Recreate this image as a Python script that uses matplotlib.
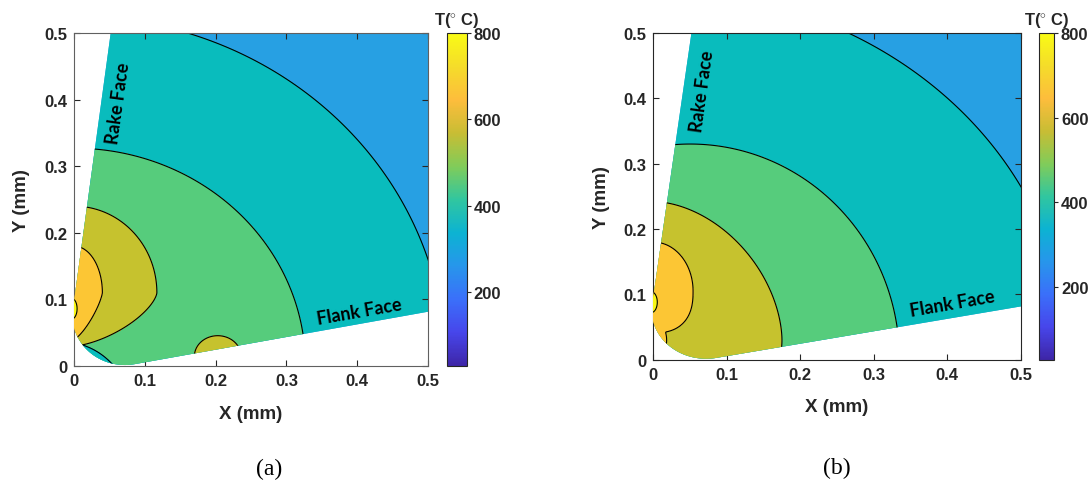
import numpy as np
import matplotlib
matplotlib.use("Agg")
from matplotlib import pyplot as plt
from matplotlib.colors import LinearSegmentedColormap, Normalize
from matplotlib.cm import ScalarMappable
from matplotlib.path import Path
from matplotlib.patches import PathPatch

# colour of each temperature band (lower bound of the band, deg C)
band_colors = {300: "#27A0E3", 400: "#09BCBD", 500: "#56CC7C",
               600: "#C6C22E", 700: "#FCC634", 800: "#F8F815"}

# isotherms of panel (a): band inside the shape, shape centre, radii, exponents
a_band = [400, 500, 400, 600, 600, 700, 800]
a_group = [0, 1, 2, 3, 4, 5, 6]
a_cx = [0.0, 0.0, -0.02, 0.203, 0.0, 0.0, -0.004]
a_cy = [0.0, 0.0, -0.06, 0.0145, 0.11, 0.11, 0.086]
a_rx = [0.525, 0.327, 0.097, 0.033, 0.117, 0.040, 0.0083]
a_ry_up = [0.525, 0.327, 0.097, 0.031, 0.130, 0.070, 0.016]
a_ry_dn = [0.525, 0.327, 0.097, 0.031, 0.080, 0.070, 0.016]
a_p_up = [2, 2, 2, 2, 2, 2, 2]
a_p_dn = [2, 2, 2, 2, 1.5, 1.3, 2]

# isotherms of panel (b)
b_band = [400, 500, 600, 700, 700, 800]
b_group = [0, 1, 2, 3, 3, 4]
b_cx = [0.0, 0.05, 0.0, 0.0, 0.0, -0.003]
b_cy = [0.0, 0.0, 0.03, 0.105, 0.03, 0.088]
b_rx = [0.566, 0.285, 0.175, 0.054, 0.018, 0.0083]
b_ry_up = [0.566, 0.330, 0.212, 0.075, 0.030, 0.016]
b_ry_dn = [0.566, 0.330, 0.212, 0.064, 0.030, 0.016]
b_p_up = [2, 2, 1.8, 2, 2, 2]
b_p_dn = [2, 2, 1.8, 2.5, 2, 2]

cbar_ticks = [200, 400, 600, 800]
t_min, t_max = 28, 800

# approximate parula
parula = LinearSegmentedColormap.from_list("parula", [
    "#3E26A8", "#4746EB", "#3A70FA", "#2796EB", "#0CB3D2", "#31C69F",
    "#81CC59", "#C8BD34", "#FDBD3C", "#F5DC2A", "#F9FB15"])

# tool geometry (mm)
rake_pt = np.array([0.0518, 0.5])
rake_dir = np.array([0.1287, 1.0])
flank_pt = np.array([0.5, 0.0815])
flank_dir = np.array([1.0, 0.19])
nose_r = 0.074


def tool_path():
    dr = rake_dir / np.linalg.norm(rake_dir)
    df = flank_dir / np.linalg.norm(flank_dir)
    nr = np.array([dr[1], -dr[0]])
    nf = np.array([-df[1], df[0]])
    A = np.array([nr, nf])
    b = np.array([nr @ rake_pt + nose_r, nf @ flank_pt + nose_r])
    c = np.linalg.solve(A, b)
    t1 = np.arctan2(-nr[1], -nr[0])
    t2 = np.arctan2(-nf[1], -nf[0]) + 2 * np.pi
    th = np.linspace(t1, t2, 80)
    arc = np.column_stack([c[0] + nose_r * np.cos(th), c[1] + nose_r * np.sin(th)])
    top = rake_pt + dr * 0.2
    right = flank_pt + df * 0.2
    pts = np.vstack([top, arc, right, [right[0], top[1]], top])
    return Path(pts, closed=True)


def egg(X, Y, cx, cy, rx, ryu, ryd, pu, pd):
    up = Y >= cy
    u = np.abs(X - cx) / rx
    v = np.where(up, (Y - cy) / ryu, (cy - Y) / ryd)
    p = np.where(up, pu, pd)
    return (u ** p + v ** p) ** (1.0 / p)


def draw_panel(ax, band, group, cx, cy, rx, ryu, ryd, pu, pd, spine_col):
    xs = np.linspace(-0.03, 0.56, 700)
    X, Y = np.meshgrid(xs, xs)
    clip = PathPatch(tool_path(), transform=ax.transData, facecolor="none", edgecolor="none")
    ax.add_patch(clip)
    base = PathPatch(tool_path(), facecolor=band_colors[300], edgecolor="none", zorder=0.5)
    ax.add_patch(base)
    z = 1
    for g in sorted(set(group)):
        idx = [i for i in range(len(group)) if group[i] == g]
        rho = np.min([egg(X, Y, cx[i], cy[i], rx[i], ryu[i], ryd[i], pu[i], pd[i]) for i in idx], axis=0)
        cf = ax.contourf(X, Y, rho, levels=[0, 1], colors=[band_colors[band[idx[0]]]], zorder=z)
        cl = ax.contour(X, Y, rho, levels=[1], colors="k", linewidths=0.8, zorder=z + 0.5)
        cf.set_clip_path(clip)
        cl.set_clip_path(clip)
        z += 1
    ax.set_xlim(0, 0.5)
    ax.set_ylim(0, 0.5)
    ax.set_xticks(np.arange(0, 0.51, 0.1))
    ax.set_yticks(np.arange(0, 0.51, 0.1))
    ax.set_xticklabels(["0", "0.1", "0.2", "0.3", "0.4", "0.5"])
    ax.set_yticklabels(["0", "0.1", "0.2", "0.3", "0.4", "0.5"])
    ax.tick_params(direction="in", top=True, right=True, length=4, width=0.8,
                   labelsize=12, colors="#262626", pad=5)
    for lab in ax.get_xticklabels() + ax.get_yticklabels():
        lab.set_fontweight("bold")
    for s in ax.spines.values():
        s.set_color(spine_col)
        s.set_linewidth(0.8)
    ax.set_xlabel("X (mm)", fontsize=13.5, fontweight="bold", color="#262626", labelpad=12)
    ax.set_ylabel("Y (mm)", fontsize=13.5, fontweight="bold", color="#262626", labelpad=10)


def draw_cbar(fig, rect):
    cax = fig.add_axes(rect)
    cb = fig.colorbar(ScalarMappable(Normalize(t_min, t_max), parula), cax=cax)
    cb.set_ticks(cbar_ticks)
    cb.outline.set_linewidth(0.8)
    cb.outline.set_edgecolor("#262626")
    cax.tick_params(direction="out", length=3, width=0.8, labelsize=12, colors="#262626", pad=2)
    for lab in cax.get_yticklabels():
        lab.set_fontweight("bold")
    cax.set_title(r"T($^{\circ}$ C)", fontsize=12, fontweight="bold", color="#262626", pad=6)
    return cb


plt.rcParams["font.family"] = ["Liberation Sans", "DejaVu Sans"]
plt.rcParams["mathtext.fontset"] = "custom"
plt.rcParams["mathtext.rm"] = "Liberation Sans:bold"

fig = plt.figure(figsize=(10.89, 4.85), dpi=100)

ax1 = fig.add_axes([0.068, 0.2433, 0.325, 0.6867])
draw_panel(ax1, a_band, a_group, a_cx, a_cy, a_rx, a_ry_up, a_ry_dn, a_p_up, a_p_dn, "#606060")
ax1.text(0.062, 0.396, "Rake Face", rotation=82, ha="center", va="center",
         fontsize=13, fontweight="bold", family="Lato", zorder=20)
ax1.text(0.403, 0.083, "Flank Face", rotation=10, ha="center", va="center",
         fontsize=13, fontweight="bold", family="Lato", zorder=20)
draw_cbar(fig, [0.4102, 0.2433, 0.0184, 0.6867])

ax2 = fig.add_axes([0.6, 0.2563, 0.3373, 0.6737])
draw_panel(ax2, b_band, b_group, b_cx, b_cy, b_rx, b_ry_up, b_ry_dn, b_p_up, b_p_dn, "#262626")
ax2.text(0.067, 0.412, "Rake Face", rotation=82, ha="center", va="center",
         fontsize=13, fontweight="bold", family="Lato", zorder=20)
ax2.text(0.4075, 0.086, "Flank Face", rotation=10, ha="center", va="center",
         fontsize=13, fontweight="bold", family="Lato", zorder=20)
draw_cbar(fig, [0.9544, 0.2563, 0.0135, 0.6737])

fig.text(269.5 / 1089, 1 - 469 / 485, "(a)", ha="center", va="center",
         fontsize=17, family="Liberation Serif")
fig.text(836.5 / 1089, 1 - 468 / 485, "(b)", ha="center", va="center",
         fontsize=17, family="Liberation Serif")

fig.savefig("out.png", dpi=100)
